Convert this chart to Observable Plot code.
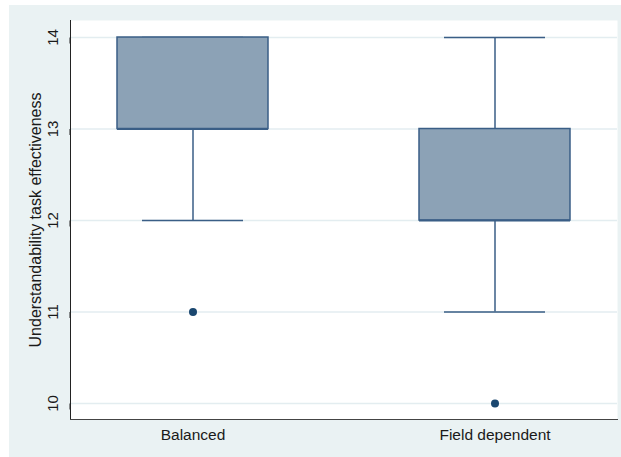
<!DOCTYPE html>
<html>
<head>
<meta charset="utf-8">
<script src="https://cdn.jsdelivr.net/npm/d3@7"></script>
<script src="https://cdn.jsdelivr.net/npm/@observablehq/plot@0.6"></script>
<style>
  html, body { margin: 0; padding: 0; background: #ffffff; }
  #chart { padding: 5px 0 0 9px; }
  #chart svg { display: block; background: #eaf2f3; }
</style>
</head>
<body>
<div id="chart"></div>
<script>
// Box plot summaries per group
const groups = ["Balanced", "Field dependent"];
const lowerWhisker = [12, 11];
const lowerQuartile = [13, 12];
const median = [13, 12];
const upperQuartile = [14, 13];
const upperWhisker = [14, 14];

// Outside values
const outlierGroup = ["Balanced", "Field dependent"];
const outlierValue = [11, 10];

const yTicks = [10, 11, 12, 13, 14];
const yLabel = "Understandability task effectiveness";

const boxes = groups.map((g, i) => ({
  group: g,
  lo: lowerWhisker[i],
  q1: lowerQuartile[i],
  med: median[i],
  q3: upperQuartile[i],
  hi: upperWhisker[i]
}));
const outliers = outlierGroup.map((g, i) => ({group: g, value: outlierValue[i]}));

const navy = "#1a476f";
const edge = "#3a5e86";
const font = "'Liberation Sans', Arial, Helvetica, sans-serif";

const chart = Plot.plot({
  width: 612,
  height: 452,
  marginLeft: 61,
  marginTop: 15,
  marginRight: 4,
  marginBottom: 38,
  style: {fontFamily: font, fontSize: "15px", color: "#1a1a1a", background: "#eaf2f3"},
  x: {domain: groups, paddingInner: 0.5, paddingOuter: 0.155, label: null},
  y: {domain: [9.825, 14.186], label: null},
  marks: [
    Plot.frame({fill: "white", stroke: "none"}),
    Plot.gridY(yTicks, {stroke: "#e3edf0", strokeOpacity: 1, strokeWidth: 1.3}),
    // whiskers and caps
    Plot.ruleX(boxes, {x: "group", y1: "lo", y2: "q1", stroke: edge, strokeWidth: 1.5}),
    Plot.ruleX(boxes, {x: "group", y1: "q3", y2: "hi", stroke: edge, strokeWidth: 1.5}),
    Plot.tickY(boxes, {x: "group", y: "lo", stroke: edge, strokeWidth: 1.5, insetLeft: 25, insetRight: 25}),
    Plot.tickY(boxes, {x: "group", y: "hi", stroke: edge, strokeWidth: 1.5, insetLeft: 25, insetRight: 25}),
    // interquartile boxes and medians
    Plot.barY(boxes, {x: "group", y1: "q1", y2: "q3", fill: "#8ca2b6", stroke: edge, strokeWidth: 1.5}),
    Plot.tickY(boxes, {x: "group", y: "med", stroke: edge, strokeWidth: 1.8}),
    Plot.dot(outliers, {x: "group", y: "value", r: 4, fill: navy, stroke: "none"}),
    // axis lines
    Plot.frame({anchor: "left", stroke: "#222", strokeWidth: 1}),
    Plot.frame({anchor: "bottom", stroke: "#444", strokeWidth: 1}),
    Plot.axisY({ticks: yTicks, tickSize: 6, tickPadding: 11, rotate: -90, textAnchor: "middle", lineAnchor: "middle", stroke: "#222", fontSize: 15, tickFormat: d3.format("d"), label: null}),
    Plot.axisX({tickSize: 0, tickPadding: 9.5, fontSize: 15.5, label: null}),
    Plot.text([yLabel], {frameAnchor: "left", dx: -35, rotate: -90, textAnchor: "middle", lineAnchor: "middle", fontSize: 16, fill: "#1a1a1a"})
  ]
});

document.getElementById("chart").appendChild(chart);
</script>
</body>
</html>
